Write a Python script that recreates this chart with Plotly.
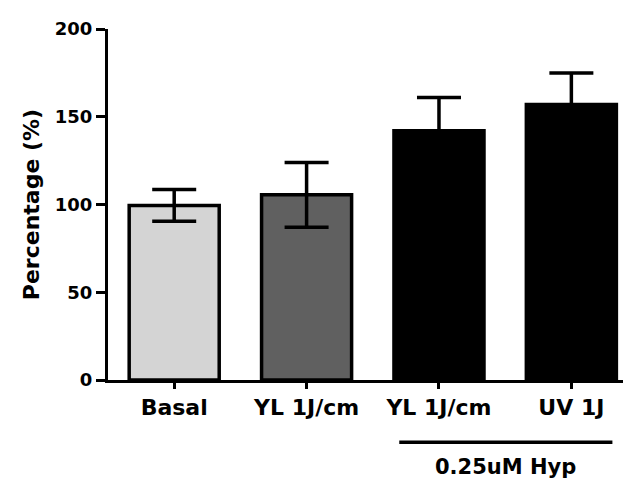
import plotly.graph_objects as go

categories = ["Basal", "YL 1J/cm", "YL 1J/cm", "UV 1J"]
values = [99.5, 105.5, 142, 157]
errors = [9, 18.5, 19, 18]
colors = ["#d4d4d4", "#606060", "#000000", "#000000"]
yticks = [0, 50, 100, 150, 200]
group_label = "0.25uM Hyp"

xpos = list(range(len(categories)))
FONT = "DejaVu Sans, Arial, sans-serif"

fig = go.Figure()
fig.add_trace(go.Bar(
    x=xpos, y=values, width=0.68,
    marker=dict(color=colors, line=dict(color="black", width=3.5)),
    error_y=dict(type="data", array=errors, visible=True, color="black", thickness=3.5, width=22),
))

fig.add_shape(type="line", xref="x", yref="paper", x0=1.7, x1=3.31, y0=-0.177, y1=-0.177,
              line=dict(color="black", width=3.5))
fig.add_annotation(xref="x", yref="paper", x=2.5, y=-0.249, text=group_label, showarrow=False,
                   font=dict(family=FONT, size=21, color="black", weight="bold"), yanchor="middle")

fig.update_layout(
    width=630, height=481,
    margin=dict(l=108, r=7, t=29, b=101),
    plot_bgcolor="white", paper_bgcolor="white",
    showlegend=False,
    xaxis=dict(range=[-0.5, 3.39], tickvals=xpos, ticktext=categories, showline=True,
               linecolor="black", linewidth=3, ticks="outside", ticklen=6, tickwidth=2.5,
               tickcolor="black", showgrid=False, zeroline=False,
               tickfont=dict(family=FONT, size=22, color="black", weight="bold")),
    yaxis=dict(range=[0, 200], tickvals=yticks, showline=True, linecolor="black", linewidth=3,
               ticks="outside", ticklen=9, tickwidth=2.5, tickcolor="black", showgrid=False,
               zeroline=False,
               tickfont=dict(family=FONT, size=18, color="black", weight="bold"),
               title=dict(text="Percentage (%)", standoff=10,
                          font=dict(family=FONT, size=22, color="black", weight="bold"))),
)

fig.write_html("out.html")
